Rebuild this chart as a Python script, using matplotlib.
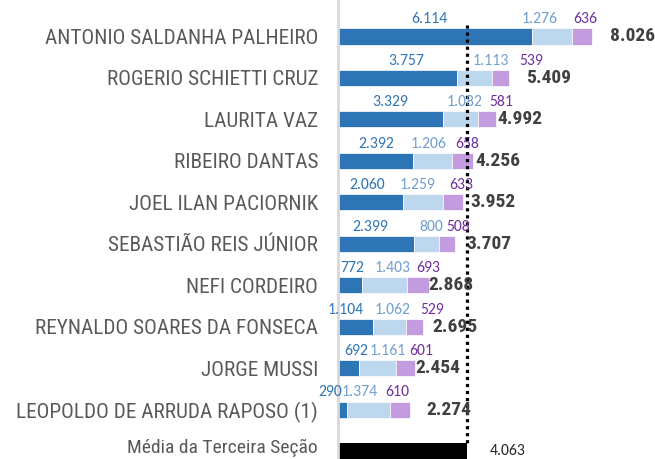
import matplotlib
matplotlib.use('Agg')
import matplotlib.pyplot as plt
from matplotlib import font_manager

# dados
juizes = ['ANTONIO SALDANHA PALHEIRO', 'ROGERIO SCHIETTI CRUZ', 'LAURITA VAZ',
          'RIBEIRO DANTAS', 'JOEL ILAN PACIORNIK', 'SEBASTIÃO REIS JÚNIOR',
          'NEFI CORDEIRO', 'REYNALDO SOARES DA FONSECA', 'JORGE MUSSI',
          'LEOPOLDO DE ARRUDA RAPOSO (1)']
serie_a = [6114, 3757, 3329, 2392, 2060, 2399, 772, 1104, 692, 290]
serie_b = [1276, 1113, 1082, 1206, 1259, 800, 1403, 1062, 1161, 1374]
serie_c = [636, 539, 581, 658, 633, 508, 693, 529, 601, 610]
totais = [8026, 5409, 4992, 4256, 3952, 3707, 2868, 2695, 2454, 2274]
media_label = 'Média da Terceira Seção'
media = 4063

# deslocamentos (px) dos rotulos, que no original foram movidos a mao
dx_a = [-5, 9, 0, 1, -3, -5, 2, -9, 7.5, -12]
dx_b = [-12, 16, 4, -4, -5, 5, 8, 3.5, 9.5, -8.5]
dx_c = [3, 31, 15, 5, 8, 11, 11, 17, 15.5, -3]
total_dx = [18, 17, 1, 3, 7, 11, 0, 9, 0, 17]


def pick(cands, weight=400):
    fl = font_manager.fontManager.ttflist
    for c in cands:
        ws = [f.weight for f in fl if f.name == c]
        ws = [w if isinstance(w, int) else font_manager.weight_dict.get(w, 400) for w in ws]
        if ws and (weight < 600 or max(ws) >= 600):
            return c
    return 'DejaVu Sans'


narrow = pick(['Liberation Sans Narrow', 'Arial Narrow', 'Roboto Condensed', 'Archivo Narrow',
               'Barlow Semi Condensed', 'PT Sans Narrow', 'Liberation Sans'])
narrow_b = pick(['Liberation Sans Narrow', 'Arial Narrow', 'Roboto Condensed', 'Barlow Condensed',
                 'Asap Condensed', 'Liberation Sans'], 700)
calibri = pick(['Carlito', 'Calibri', 'Lato', 'Open Sans'])
fs_seg = 11.3 if calibri in ('Carlito', 'Calibri') else 10.8

fig = plt.figure(figsize=(6.55, 4.59), dpi=100)
ax = fig.add_axes([337.5 / 655, 0, 1 - 337.5 / 655, 1])

rows = list(range(len(juizes)))
h = 0.39
left_c = [a + b for a, b in zip(serie_a, serie_b)]
ax.barh(rows, serie_a, height=h, color='#2E75B6', edgecolor='white', linewidth=0.5)
ax.barh(rows, serie_b, left=serie_a, height=h, color='#BDD7EE', edgecolor='white', linewidth=0.5)
ax.barh(rows, serie_c, left=left_c, height=h, color='#C39BDF', edgecolor='white', linewidth=0.5)
ax.barh([len(juizes)], [media], height=h, color='black')

# linha da media
ax.plot([media, media], [-0.27, len(juizes) - 0.2], color='black', linestyle=(0, (1, 1.2)), linewidth=2.3)


def fmt(v):
    return f'{v:,}'.replace(',', '.')


def seg_label(x, y, txt, dx, cor):
    ax.annotate(txt, (x, y), xytext=(dx * 0.72, 1.5), textcoords='offset points',
                ha='center', va='bottom', fontsize=fs_seg, color=cor, family=calibri)


for i in rows:
    a, b, c = serie_a[i], serie_b[i], serie_c[i]
    y = i - h / 2
    seg_label(a / 2, y, fmt(a), dx_a[i], '#2E75B6')
    seg_label(a + b / 2, y, fmt(b), dx_b[i], '#6F9FD0')
    seg_label(a + b + c / 2, y, fmt(c), dx_c[i], '#7030A0')
    ax.annotate(fmt(totais[i]), (totais[i], i), xytext=(total_dx[i] * 0.72, 0), textcoords='offset points',
                ha='left', va='center', fontsize=14, fontweight='bold', color='#404040', family=narrow_b)

ax.annotate(fmt(media), (media, len(juizes)), xytext=(16.5, 0), textcoords='offset points',
            ha='left', va='center', fontsize=fs_seg, color='#262626', family=calibri)

ax.set_yticks(rows)
ax.set_yticklabels(juizes, family=narrow, fontsize=15.3, color='#595959')
# rotulo da media um pouco acima para o cedilha nao ser cortado
ax.annotate(media_label, (0, len(juizes)), xycoords=('axes fraction', 'data'), xytext=(-14, 2),
            textcoords='offset points', ha='right', va='center', fontsize=14, color='#595959', family=narrow)
ax.tick_params(axis='y', length=0, pad=14)
ax.set_xticks([])
ax.set_xlim(0, 10000)
ax.set_ylim(10.19, -0.88)
for s in ['top', 'right', 'bottom']:
    ax.spines[s].set_visible(False)
ax.spines['left'].set_color('#D9D9D9')
ax.spines['left'].set_linewidth(2)

fig.savefig('out.png', dpi=100)
